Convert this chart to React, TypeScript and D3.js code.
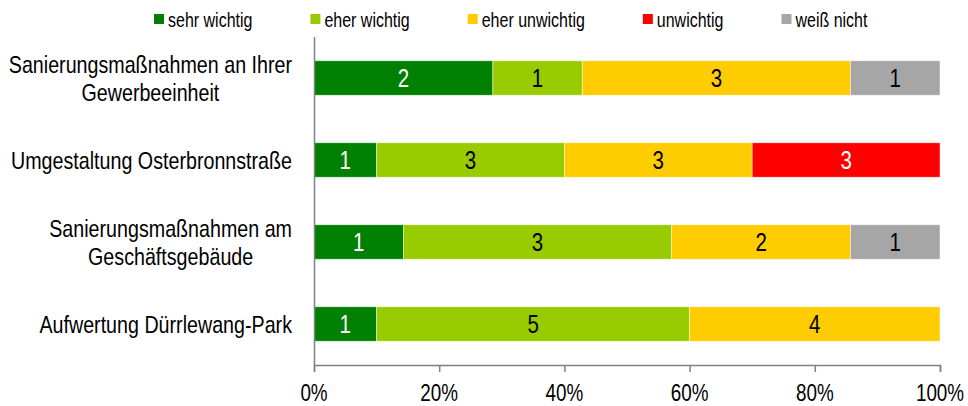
import React, { useEffect, useRef } from 'react'
import * as d3 from 'd3'

const categoryLines: string[][] = [
  ['Sanierungsmaßnahmen an Ihrer', 'Gewerbeeinheit'],
  ['Umgestaltung Osterbronnstraße'],
  ['Sanierungsmaßnahmen am', 'Geschäftsgebäude'],
  ['Aufwertung Dürrlewang-Park'],
]
const seriesNames = ['sehr wichtig', 'eher wichtig', 'eher unwichtig', 'unwichtig', 'weiß nicht']
const sehrWichtig = [2, 1, 1, 1]
const eherWichtig = [1, 3, 3, 5]
const eherUnwichtig = [3, 3, 2, 4]
const unwichtig = [0, 3, 0, 0]
const weissNicht = [1, 0, 1, 0]
const seriesColors = ['#008000', '#99CC00', '#FFCC00', '#FF0000', '#A6A6A6']
const labelColors = ['#ffffff', '#000000', '#000000', '#ffffff', '#000000']
const xTicks = [0, 0.2, 0.4, 0.6, 0.8, 1]

// no narrow font installed: squeeze Liberation Sans horizontally instead
const FONT = "'Liberation Sans', Arial, sans-serif"
const SX = 0.82
const W = 968
const H = 406
const plot = { left: 314, right: 940, top: 37, bottom: 365 }

type TRow = { key: string; values: number[] }
type TSel = d3.Selection<any, unknown, null, undefined>

// narrow text, returns its on-screen width
const narrowText = (
  parent: TSel,
  x: number,
  y: number,
  txt: string,
  size: number,
  anchor = 'start',
  fill = '#000',
  dy = '0',
) => {
  const t = parent
    .append('g')
    .attr('transform', 'translate(' + x + ',' + y + ') scale(' + SX + ',1)')
    .append('text')
    .attr('font-family', FONT)
    .attr('font-size', size)
    .attr('fill', fill)
    .attr('text-anchor', anchor)
    .attr('dy', dy)
    .text(txt)
  return (t.node() as SVGTextElement).getComputedTextLength() * SX
}

const App = (): JSX.Element => {
  const ref = useRef<SVGSVGElement>(null)

  useEffect(() => {
    document.body.style.margin = '0'
    const svg = d3.select(ref.current) as unknown as TSel
    svg.selectAll('*').remove()

    const rows: TRow[] = [sehrWichtig, eherWichtig, eherUnwichtig, unwichtig, weissNicht].map((v, i) => ({
      key: seriesNames[i],
      values: v,
    }))
    const totals = categoryLines.map((_, ci) => d3.sum(rows, r => r.values[ci]))

    const x = d3.scaleLinear().domain([0, 1]).range([plot.left, plot.right])
    const y = d3
      .scaleBand<number>()
      .domain(d3.range(categoryLines.length))
      .range([plot.top, plot.bottom])
      .paddingInner(0.58)
      .paddingOuter(0.29)

    // bars
    categoryLines.forEach((_, ci) => {
      let acc = 0
      rows.forEach((r, si) => {
        const v = r.values[ci]
        if (!v) return
        const x0 = x(acc / totals[ci])
        acc += v
        const x1 = x(acc / totals[ci])
        const yy = y(ci) as number
        svg
          .append('rect')
          .attr('x', x0)
          .attr('y', yy)
          .attr('width', x1 - x0)
          .attr('height', y.bandwidth())
          .attr('fill', seriesColors[si])
          .attr('stroke', 'rgba(255,255,255,0.6)')
          .attr('stroke-width', 0.75)
        narrowText(svg, (x0 + x1) / 2, yy + y.bandwidth() / 2, String(v), 25, 'middle', labelColors[si], '0.36em')
      })
    })

    // axes
    svg
      .append('line')
      .attr('x1', plot.left + 0.5)
      .attr('x2', plot.left + 0.5)
      .attr('y1', plot.top)
      .attr('y2', plot.bottom)
      .attr('stroke', '#808080')
      .attr('stroke-width', 1.5)
    svg
      .append('g')
      .attr('transform', 'translate(0,' + plot.bottom + ')')
      .call(
        d3
          .axisBottom(x)
          .tickValues(xTicks)
          .tickSize(7)
          .tickFormat(() => ''),
      )
      .call(g => {
        g.select('.domain').attr('stroke', '#808080').attr('stroke-width', 1.5)
        g.selectAll('.tick line').attr('stroke', '#808080').attr('stroke-width', 1.5)
      })
    xTicks.forEach(t => {
      narrowText(svg, x(t), plot.bottom + 36, d3.format('.0%')(t), 23, 'middle')
    })

    // category labels
    const labelRight = 292
    const lineH = 28
    categoryLines.forEach((lines, ci) => {
      const cy = (y(ci) as number) + y.bandwidth() / 2
      const probe = svg.append('g').attr('opacity', 0)
      const maxW = d3.max(lines, l => narrowText(probe, 0, 0, l, 24)) || 0
      probe.remove()
      lines.forEach((l, li) => {
        narrowText(
          svg,
          labelRight - maxW / 2,
          cy + (li - (lines.length - 1) / 2) * lineH,
          l,
          24,
          'middle',
          '#000',
          '0.36em',
        )
      })
    })

    // legend
    let lx = 154
    seriesNames.forEach((name, i) => {
      svg
        .append('rect')
        .attr('x', lx)
        .attr('y', 14)
        .attr('width', 10)
        .attr('height', 10)
        .attr('fill', seriesColors[i])
      const w = narrowText(svg, lx + 14, 26.5, name, 19.5)
      lx += 14 + w + 58
    })
  }, [])

  return <svg ref={ref} width={W} height={H} style={{ display: 'block', background: '#fff' }} />
}

export default App
